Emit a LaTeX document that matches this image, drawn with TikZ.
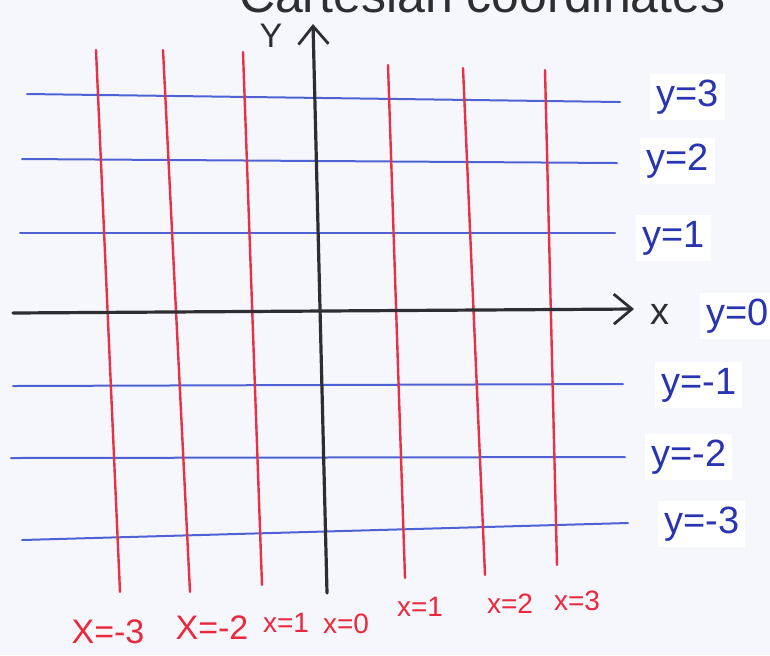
\documentclass[tikz,border=0pt]{standalone}
\usepackage{fontspec}
\setmainfont{Liberation Sans}
\usepackage{tikz}
\usetikzlibrary{arrows.meta,positioning}
\definecolor{paper}{RGB}{246,247,252}
\definecolor{gridblue}{RGB}{78,98,212}
\definecolor{gridred}{RGB}{232,48,70}
\definecolor{labblue}{RGB}{40,52,178}
\definecolor{labred}{RGB}{236,40,60}
\definecolor{inkgray}{RGB}{45,45,50}
\tikzset{
  hline/.style    = {line width=1pt, gridblue, line cap=round},
  vline/.style    = {line width=1.2pt, gridred, line cap=round},
  axisline/.style = {line width=1.6pt, inkgray, line cap=round},
  axtip/.style    = {-{Straight Barb[length=9pt,width=15pt,line width=1.4pt]}},
  ylab/.style     = {anchor=west, text=labblue, fill=white, inner sep=3pt,
                     font=\fontsize{19}{19}\selectfont},
  xlab/.style     = {text=labred, inner sep=1pt,
                     font=\fontsize{14}{14}\selectfont},
}
\begin{document}
\begin{tikzpicture}[x=0.5pt, y=-0.5pt]
\useasboundingbox[fill=paper] (0,0) rectangle (770,655);
% ---- title, cut off at the top edge ----
\node[anchor=base west, inkgray, font=\fontsize{25}{25}\selectfont]
  (title) at (232,12) {Cartesian coordinates};
% ---- horizontal lines y = const ----
\foreach \n/\xa/\ya/\xb/\yb in {p3/27/94/620/102, p2/22/159/617/163,
    p1/20/233/615/233, m1/13/386/623/384, m2/11/458/625/457,
    m3/22/540/628/523}{
  \coordinate (hw\n) at (\xa,\ya);
  \coordinate (he\n) at (\xb,\yb);
  \draw[hline] (hw\n) -- (he\n);
}
% ---- vertical lines x = const ----
\foreach \n/\xa/\ya/\xb/\yb in {m3/96/50/120/592, m2/163/50/190/592,
    m1/243/52/262/585, p1/388/65/405/578, p2/463/68/485/575,
    p3/545/70/557/565}{
  \coordinate (vt\n) at (\xa,\ya);
  \coordinate (vb\n) at (\xb,\yb);
  \draw[vline] (vt\n) -- (vb\n);
}
% ---- axes ----
\coordinate (xstart) at (13,313);
\coordinate (xend)   at (634,309);
\coordinate (ystart) at (327,593);
\coordinate (yend)   at (313,24);
\draw[axisline,axtip] (xstart) -- (xend);
\draw[axisline,axtip] (ystart) -- (yend);
\node[inkgray, font=\fontsize{17}{17}\selectfont] (ylabel) at (271,36) {Y};
\node[inkgray, font=\fontsize{19}{19}\selectfont] (xlabel) at (660,314) {x};
% ---- labels of the blue lines ----
\node[ylab] (lyp3) at (650,97)  {y=3};
\node[ylab] (lyp2) at (640,161) {y=2};
\node[ylab] (lyp1) at (636,238) {y=1};
\node[ylab] (lyz)  at (700,316) {y=0};
\node[ylab] (lym1) at (655,385) {y=-1};
\node[ylab] (lym2) at (645,457) {y=-2};
\node[ylab] (lym3) at (658,524) {y=-3};
% ---- labels of the red lines ----
\node[xlab, font=\fontsize{17}{17}\selectfont] (lxm3) at (108,632) {X=-3};
\node[xlab, font=\fontsize{17}{17}\selectfont] (lxm2) at (212,628) {X=-2};
\node[xlab] (lxm1) at (286,623) {x=1};
\node[xlab] (lxz)  at (346,624) {x=0};
\node[xlab] (lxp1) at (420,607) {x=1};
\node[xlab] (lxp2) at (510,604) {x=2};
\node[xlab] (lxp3) at (577,601) {x=3};
\end{tikzpicture}
\end{document}
